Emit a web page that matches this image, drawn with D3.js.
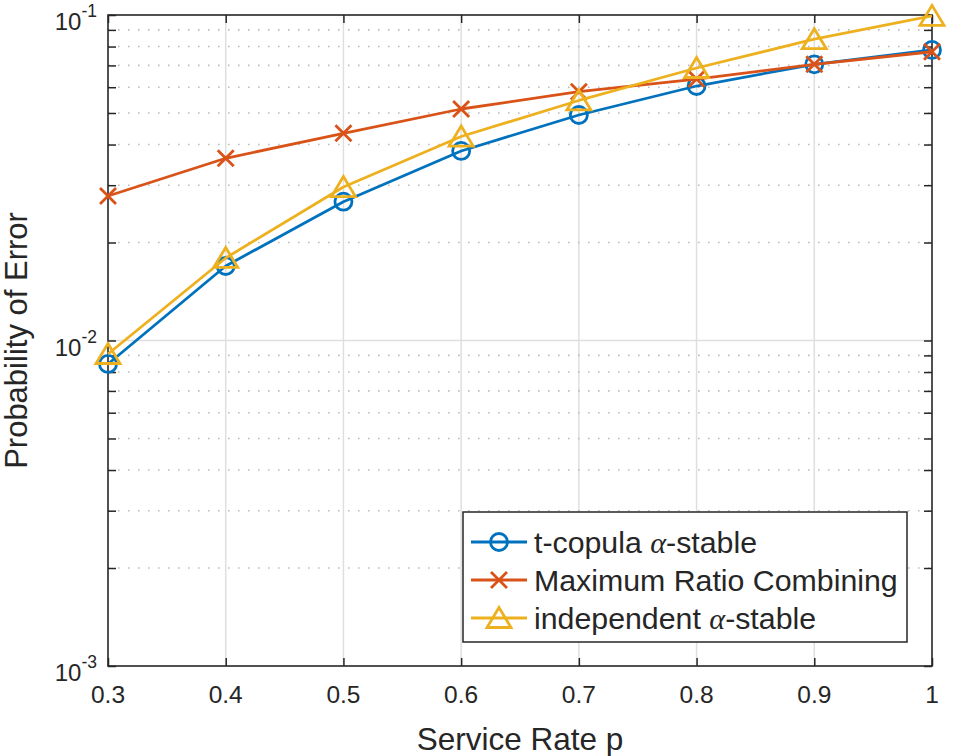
<!DOCTYPE html>
<html><head><meta charset="utf-8">
<script src="https://cdn.jsdelivr.net/npm/d3@7"></script>
<style>
html,body{margin:0;padding:0;background:#fff;}
svg{display:block;}
text{font-family:"Liberation Sans",Arial,Helvetica,sans-serif;fill:#262626;}
</style></head>
<body>
<svg id="chart" width="960" height="756"></svg>
<script>
// ---- data ----
const serviceRate = [0.3, 0.4, 0.5, 0.6, 0.7, 0.8, 0.9, 1.0];
const tCopula     = [0.00847, 0.01694, 0.02669, 0.03822, 0.04929, 0.06051, 0.07056, 0.0781];
const mrc         = [0.0278, 0.03629, 0.04331, 0.05143, 0.05813, 0.06357, 0.07056, 0.0771];
const independent = [0.00909, 0.01793, 0.02961, 0.04233, 0.05463, 0.06874, 0.08426, 0.0994];
const seriesNames = ["t-copula", "Maximum Ratio Combining", "independent"];
const xTicks = [0.3, 0.4, 0.5, 0.6, 0.7, 0.8, 0.9, 1];
const xTickLabels = ["0.3", "0.4", "0.5", "0.6", "0.7", "0.8", "0.9", "1"];
const yMajorTicks = [1e-3, 1e-2, 1e-1];
const yTickExponents = ["-3", "-2", "-1"];
const xLabel = "Service Rate p";
const yLabel = "Probability of Error";

// ---- layout ----
const L = 108, R = 932, T = 15, B = 666;
const svg = d3.select("#chart");
const x = d3.scaleLinear().domain([0.3, 1]).range([L, R]);
const y = d3.scaleLog().domain([1e-3, 1e-1]).range([B, T]);
const axisColor = "#262626";
const colors = ["#0072BD", "#D95319", "#EDB120"];

// minor y values
const yMinor = [];
[1e-3, 1e-2].forEach(d => { for (let k = 2; k <= 9; k++) yMinor.push(d * k); });

// ---- grid ----
const grid = svg.append("g");
grid.selectAll(".vg").data(xTicks.slice(1, -1)).enter().append("line")
  .attr("x1", d => x(d)).attr("x2", d => x(d)).attr("y1", T).attr("y2", B)
  .attr("stroke", "#dfdfdf").attr("stroke-width", 1.5);
grid.selectAll(".hgm").data(yMinor).enter().append("line")
  .attr("x1", L).attr("x2", R).attr("y1", d => y(d)).attr("y2", d => y(d))
  .attr("stroke", "#bdbdbd").attr("stroke-width", 1.6).attr("stroke-dasharray", "1.6,8.4");
grid.selectAll(".hg").data(yMajorTicks.slice(1, -1)).enter().append("line")
  .attr("x1", L).attr("x2", R).attr("y1", d => y(d)).attr("y2", d => y(d))
  .attr("stroke", "#dfdfdf").attr("stroke-width", 1.5);

// ---- axes (ticks inside) ----
const tickLen = 8;
const axes = svg.append("g");
function styleAxis(g) {
  g.select(".domain").remove();
  g.selectAll(".tick line").attr("stroke", axisColor).attr("stroke-width", 1.5);
  g.selectAll(".tick text").remove();
}
axes.append("g").attr("transform", `translate(0,${B})`)
  .call(d3.axisBottom(x).tickValues(xTicks).tickSize(-tickLen)).call(styleAxis);
axes.append("g").attr("transform", `translate(0,${T})`)
  .call(d3.axisTop(x).tickValues(xTicks).tickSize(-tickLen)).call(styleAxis);
const allY = yMajorTicks.concat(yMinor);
axes.append("g").attr("transform", `translate(${L},0)`)
  .call(d3.axisLeft(y).tickValues(allY).tickSize(-tickLen)).call(styleAxis);
axes.append("g").attr("transform", `translate(${R},0)`)
  .call(d3.axisRight(y).tickValues(allY).tickSize(-tickLen)).call(styleAxis);
axes.append("rect").attr("x", L).attr("y", T).attr("width", R - L).attr("height", B - T)
  .attr("fill", "none").attr("stroke", axisColor).attr("stroke-width", 1.6);

// tick labels
svg.append("g").selectAll("text").data(xTicks).enter().append("text")
  .attr("x", d => x(d)).attr("y", B + 37).attr("text-anchor", "middle")
  .attr("font-size", 24.5).text((d, i) => xTickLabels[i]);
const yl = svg.append("g").selectAll("text").data(yMajorTicks).enter().append("text")
  .attr("x", L - 11).attr("y", d => y(d) + 15).attr("text-anchor", "end")
  .attr("font-size", 24);
yl.append("tspan").text("10");
yl.append("tspan").attr("font-size", 17.5).attr("dy", -13).text((d, i) => yTickExponents[i]);

// axis labels
svg.append("text").attr("x", (L + R) / 2).attr("y", 750).attr("text-anchor", "middle")
  .attr("font-size", 31.5).text(xLabel);
svg.append("text").attr("transform", `translate(27,${(T + B) / 2}) rotate(-90)`)
  .attr("text-anchor", "middle").attr("font-size", 31).text(yLabel);

// ---- series ----
const seriesData = [tCopula, mrc, independent];
const markerTypes = ["circle", "x", "triangle"];
function drawMarker(g, type, color) {
  if (type === "circle") {
    g.append("circle").attr("r", 8.5).attr("fill", "none").attr("stroke", color).attr("stroke-width", 2.8);
  } else if (type === "x") {
    g.append("path").attr("d", "M-8,-8L8,8M-8,8L8,-8").attr("fill", "none")
      .attr("stroke", color).attr("stroke-width", 2.8);
  } else {
    g.append("path").attr("d", "M0,-10.5L12,9.5L-12,9.5Z").attr("fill", "none")
      .attr("stroke", color).attr("stroke-width", 2.8).attr("stroke-linejoin", "miter");
  }
}
const line = d3.line().x(d => x(d[0])).y(d => y(d[1]));
seriesData.forEach((vals, si) => {
  const pts = serviceRate.map((r, i) => [r, vals[i]]);
  const g = svg.append("g");
  g.append("path").datum(pts).attr("d", line).attr("fill", "none")
    .attr("stroke", colors[si]).attr("stroke-width", 2.8).attr("stroke-linejoin", "round");
  pts.forEach(p => {
    const mg = g.append("g").attr("transform", `translate(${x(p[0])},${y(p[1])})`);
    drawMarker(mg, markerTypes[si], colors[si]);
  });
});

// ---- legend ----
const lg = svg.append("g");
lg.append("rect").attr("x", 463).attr("y", 512).attr("width", 444).attr("height", 130)
  .attr("fill", "#fff").attr("stroke", axisColor).attr("stroke-width", 1.5);
const rowY = [542, 580, 618];
seriesNames.forEach((name, i) => {
  const yy = rowY[i];
  lg.append("line").attr("x1", 471).attr("x2", 527).attr("y1", yy).attr("y2", yy)
    .attr("stroke", colors[i]).attr("stroke-width", 2.8);
  const mg = lg.append("g").attr("transform", `translate(499,${yy})`);
  drawMarker(mg, markerTypes[i], colors[i]);
  const t = lg.append("text").attr("x", 534).attr("y", yy + 10.5).attr("font-size", 30.3);
  if (i === 1) {
    t.text(name);
  } else {
    t.append("tspan").text(name + " ");
    t.append("tspan").attr("font-family", "'Liberation Serif','DejaVu Serif',serif")
      .attr("font-style", "italic").text("α");
    t.append("tspan").text("-stable");
  }
});
</script>
</body></html>
